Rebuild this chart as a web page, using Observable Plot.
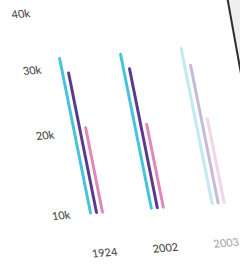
<!DOCTYPE html>
<html>
<head>
<meta charset="utf-8">
<script src="https://cdn.jsdelivr.net/npm/d3@7"></script>
<script src="https://cdn.jsdelivr.net/npm/@observablehq/plot@0.6"></script>
<style>
  html, body { margin: 0; padding: 0; background: #fff; overflow: hidden; width: 240px; height: 272px; }
  #chart { position: absolute; left: 0; top: 0; width: 260px; height: 272px; }
  #chart svg { max-width: none; width: 260px; height: 272px; transform-origin: 90px 215px; transform: rotate(-4.5deg) skewX(6.8deg); overflow: visible; }
  #edge { position: absolute; left: 226px; top: -4px; width: 120px; height: 320px; border-left: 2px solid #2e2e2e; background: #eef0ee; transform-origin: 0 0; transform: rotate(-10.2deg); }
</style>
</head>
<body>
<div id="chart"></div>
<div id="edge"></div>
<script>
const years = ["1924", "2002", "2003"];
const series = ["A", "B", "C"];
const values1924 = [31600, 29100, 20600];
const values2002 = [31500, 29000, 20400];
const values2003 = [31700, 28800, 20500];
const baseline = 10000;
const yTicks = [10000, 20000, 30000, 40000];
const colors = ["#48c2de", "#5b3a8e", "#e088ba"];
const fadedYear = "2003";

const valuesByYear = [values1924, values2002, values2003];
const rows = [];
years.forEach((yr, i) => {
  series.forEach((s, j) => {
    rows.push({year: yr, series: s, value: valuesByYear[i][j], base: baseline});
  });
});

const chart = Plot.plot({
  width: 260,
  height: 272,
  marginLeft: 71.6,
  marginRight: 17.6,
  marginTop: 9,
  marginBottom: 59,
  style: {fontFamily: "Lato", fontSize: "11px", color: "#555", background: "transparent"},
  fx: {domain: years, padding: 0.2, axis: null},
  x: {type: "point", domain: series, padding: 3.07, axis: null},
  y: {type: "pow", exponent: 0.6, domain: [10000, 40000], axis: null},
  color: {domain: series, range: colors},
  opacity: {type: "identity"},
  marks: [
    Plot.axisY(yTicks, {anchor: "left", tickSize: 0, tickPadding: 2, tickFormat: d => d / 1000 + "k", fill: "#4a4a4a", fontWeight: 500}),
    Plot.ruleX(rows, {
      fx: "year", x: "series", y1: "base", y2: "value",
      stroke: "series", strokeWidth: 3, strokeLinecap: "round",
      strokeOpacity: d => d.year === fadedYear ? 0.35 : 1
    }),
    Plot.text(years, {
      fx: d => d, text: d => d, frameAnchor: "bottom", dy: 44,
      fill: d => d === fadedYear ? "#aaa" : "#4a4a4a", fontWeight: 500
    })
  ]
});
document.getElementById("chart").appendChild(chart);
</script>
</body>
</html>
